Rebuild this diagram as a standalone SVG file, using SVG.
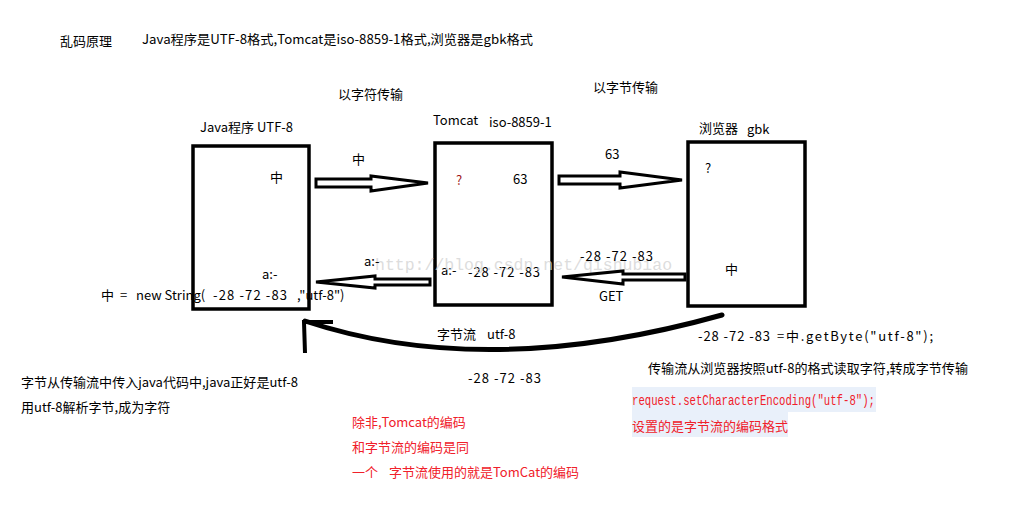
<svg xmlns="http://www.w3.org/2000/svg" width="1030" height="508" viewBox="0 0 1030 508">
<style>
text{font-family:"Noto Sans CJK SC","Liberation Sans",sans-serif;font-size:13px;fill:#000}
.red{fill:#f0202a}
.box{fill:#fff;stroke:#000;stroke-width:3.5}
.arr{fill:#fff;stroke:#000;stroke-width:3;stroke-linejoin:miter}
.mono{font-family:"Liberation Mono","DejaVu Sans Mono",monospace}
</style>
<rect width="1030" height="508" fill="#fff"/>
<text x="60" y="46">乱码原理</text>
<text x="142" y="44" textLength="391" lengthAdjust="spacingAndGlyphs">Java程序是UTF-8格式,Tomcat是iso-8859-1格式,浏览器是gbk格式</text>
<text x="338" y="99">以字符传输</text>
<text x="593" y="92">以字节传输</text>

<g id="java">
<rect class="box" x="193" y="146" width="116" height="163"/>
<text x="200" y="132">Java程序</text>
<text x="257" y="132">UTF-8</text>
<text x="270" y="182">中</text>
<text x="262" y="279">a:-</text>
</g>
<g id="tomcat">
<rect class="box" x="435" y="143" width="117" height="162"/>
<text x="433" y="125">Tomcat</text>
<text x="489" y="127">iso-8859-1</text>
<text x="456" y="185" style="fill:#a01818">?</text>
<text x="513" y="184">63</text>
<text x="441" y="275">a:-</text>
<text x="468" y="277" textLength="72" lengthAdjust="spacing">-28 -72 -83</text>
</g>
<g id="browser">
<rect class="box" x="688" y="142" width="117" height="164"/>
<text x="699" y="133">浏览器</text>
<text x="747" y="134">gbk</text>
<text x="705" y="173">?</text>
<text x="725" y="274">中</text>
</g>

<text class="mono" x="375" y="270" style="font-size:16.5px;fill:#d4d4d4;fill-opacity:0.8">http://blog.csdn.net/qishubiao</text>

<g id="connectors">
<polygon class="arr" points="316,179 371,179 371,176 428,183 371,191 371,187 316,187"/>
<polygon class="arr" points="559,176 620,176 620,172 682,180 620,188 620,184 559,184"/>
<polygon class="arr" points="430,279 375,279 375,276 316,282 375,288 375,285 430,285"/>
<polygon class="arr" points="685,274 623,274 623,271 562,277 623,284 623,280 685,280"/>
<path d="M722,315 Q486,381 305,321" fill="none" stroke="#000" stroke-width="5" stroke-linecap="round"/>
<path d="M333,322 L304,322 L305,353" fill="none" stroke="#000" stroke-width="4"/>
</g>

<text x="352" y="164">中</text>
<text x="605" y="159">63</text>
<text x="364" y="266">a:-</text>
<text x="580" y="261" textLength="73" lengthAdjust="spacing">-28 -72 -83</text>
<text x="599" y="301">GET</text>

<text x="101" y="300">中</text>
<text x="120" y="300">=</text>
<text x="136" y="300">new String(</text>
<text x="213" y="300" textLength="74" lengthAdjust="spacing">-28 -72 -83</text>
<text x="297" y="300">,"utf-8")</text>

<text x="437" y="339">字节流</text>
<text x="487" y="339">utf-8</text>
<text x="468" y="383" textLength="73" lengthAdjust="spacing">-28 -72 -83</text>
<text x="698" y="341" textLength="72" lengthAdjust="spacing">-28 -72 -83</text>
<text x="777" y="341" textLength="156" lengthAdjust="spacing">=中.getByte("utf-8");</text>
<text x="648" y="373" textLength="320" lengthAdjust="spacingAndGlyphs">传输流从浏览器按照utf-8的格式读取字符,转成字节传输</text>

<rect x="632" y="387" width="244" height="25" fill="#e9f0fa"/>
<rect x="632" y="412" width="156" height="25" fill="#e9f0fa"/>
<text class="red" x="632" y="405" style="font-family:'Liberation Mono','DejaVu Sans Mono',monospace;font-size:14px" textLength="243" lengthAdjust="spacingAndGlyphs">request.setCharacterEncoding("utf-8");</text>
<text class="red" x="632" y="431">设置的是字节流的编码格式</text>

<text x="21" y="387" textLength="277" lengthAdjust="spacingAndGlyphs">字节从传输流中传入java代码中,java正好是utf-8</text>
<text x="21" y="412">用utf-8解析字节,成为字符</text>

<text class="red" x="352" y="427">除非,Tomcat的编码</text>
<text class="red" x="352" y="452">和字节流的编码是同</text>
<text class="red" x="352" y="477">一个</text>
<text class="red" x="389" y="477">字节流使用的就是TomCat的编码</text>
</svg>
